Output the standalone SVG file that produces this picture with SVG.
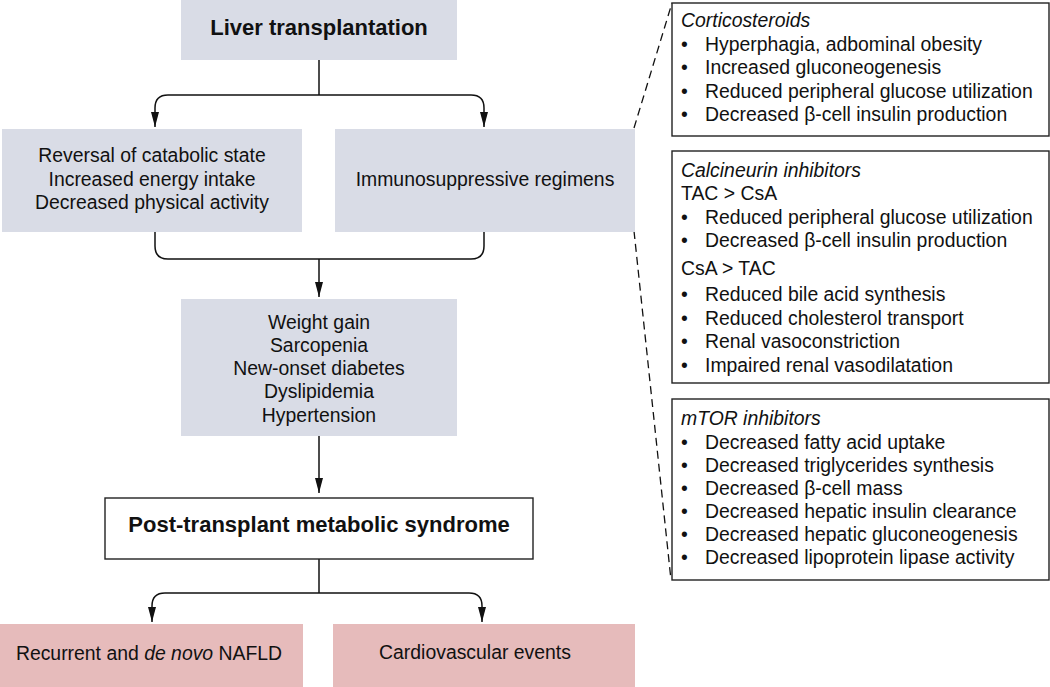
<svg xmlns="http://www.w3.org/2000/svg" width="1050" height="687" viewBox="0 0 1050 687">
<style>
text{font-family:"Liberation Sans",Arial,sans-serif;font-size:19.4px;fill:#111}
.c{text-anchor:middle}
.b{font-weight:bold;font-size:22px}
.i{font-style:italic}
.grey{fill:#d9dce6}
.pink{fill:#e6bbbb}
.box{fill:#fff;stroke:#222;stroke-width:1.4}
.ln{fill:none;stroke:#111;stroke-width:1.5}
.dash{fill:none;stroke:#111;stroke-width:1.3;stroke-dasharray:8 5}
</style>
<defs>
<marker id="ah" markerUnits="userSpaceOnUse" markerWidth="16" markerHeight="10" refX="15" refY="4" orient="auto">
<path d="M0,0 L15,4 L0,8 z" fill="#111"/>
</marker>
</defs>
<g id="connectors">
<path class="ln" d="M319,60 V95"/>
<path class="ln" d="M319,95 H168 Q155,95 155,108 V127" marker-end="url(#ah)"/>
<path class="ln" d="M319,95 H471 Q484,95 484,108 V127" marker-end="url(#ah)"/>
<path class="ln" d="M155,232 V246 Q155,259 168,259 H471 Q484,259 484,246 V232"/>
<path class="ln" d="M319,259 V297" marker-end="url(#ah)"/>
<path class="ln" d="M319,436 V493" marker-end="url(#ah)"/>
<path class="ln" d="M319,559 V593"/>
<path class="ln" d="M319,593 H165 Q152,593 152,606 V622" marker-end="url(#ah)"/>
<path class="ln" d="M319,593 H469 Q482,593 482,606 V622" marker-end="url(#ah)"/>
<path class="dash" d="M634,128 L672,3"/>
<path class="dash" d="M634,231 L671,580"/>
</g>
<g id="liver">
<rect class="grey" x="181" y="0" width="276" height="60"/>
<text class="c b" x="319" y="35">Liver transplantation</text>
</g>
<g id="reversal">
<rect class="grey" x="2" y="129" width="300" height="103"/>
<text class="c" x="152" y="162">Reversal of catabolic state</text>
<text class="c" x="152" y="186">Increased energy intake</text>
<text class="c" x="152" y="209">Decreased physical activity</text>
</g>
<g id="immuno">
<rect class="grey" x="335" y="129" width="300" height="103"/>
<text class="c" x="485" y="186">Immunosuppressive regimens</text>
</g>
<g id="effects">
<rect class="grey" x="181" y="299" width="276" height="137"/>
<text class="c" x="319" y="329">Weight gain</text>
<text class="c" x="319" y="352">Sarcopenia</text>
<text class="c" x="319" y="375">New-onset diabetes</text>
<text class="c" x="319" y="398">Dyslipidemia</text>
<text class="c" x="319" y="422">Hypertension</text>
</g>
<g id="syndrome">
<rect class="box" x="105" y="498" width="428" height="61"/>
<text class="c b" x="319" y="532">Post-transplant metabolic syndrome</text>
</g>
<g id="nafld">
<rect class="pink" x="0" y="624" width="303" height="63"/>
<text class="c" x="149" y="660">Recurrent and <tspan class="i">de novo</tspan> NAFLD</text>
</g>
<g id="cardio">
<rect class="pink" x="333" y="624" width="302" height="63"/>
<text class="c" x="475" y="659">Cardiovascular events</text>
</g>
<g id="corticosteroids">
<rect class="box" x="672" y="3" width="377" height="133"/>
<text class="i" x="681" y="27">Corticosteroids</text>
<text x="681" y="50.5">•</text><text x="705" y="50.5">Hyperphagia, adbominal obesity</text>
<text x="681" y="74">•</text><text x="705" y="74">Increased gluconeogenesis</text>
<text x="681" y="97.5">•</text><text x="705" y="97.5">Reduced peripheral glucose utilization</text>
<text x="681" y="121">•</text><text x="705" y="121">Decreased β-cell insulin production</text>
</g>
<g id="calcineurin">
<rect class="box" x="672" y="151" width="377" height="232"/>
<text class="i" x="681" y="177">Calcineurin inhibitors</text>
<text x="681" y="200">TAC &gt; CsA</text>
<text x="681" y="223.5">•</text><text x="705" y="223.5">Reduced peripheral glucose utilization</text>
<text x="681" y="247">•</text><text x="705" y="247">Decreased β-cell insulin production</text>
<text x="681" y="275">CsA &gt; TAC</text>
<text x="681" y="301">•</text><text x="705" y="301">Reduced bile acid synthesis</text>
<text x="681" y="324.5">•</text><text x="705" y="324.5">Reduced cholesterol transport</text>
<text x="681" y="348">•</text><text x="705" y="348">Renal vasoconstriction</text>
<text x="681" y="371.5">•</text><text x="705" y="371.5">Impaired renal vasodilatation</text>
</g>
<g id="mtor">
<rect class="box" x="672" y="399" width="377" height="181"/>
<text class="i" x="681" y="425">mTOR inhibitors</text>
<text x="681" y="448.5">•</text><text x="705" y="448.5">Decreased fatty acid uptake</text>
<text x="681" y="471.5">•</text><text x="705" y="471.5">Decreased triglycerides synthesis</text>
<text x="681" y="494.5">•</text><text x="705" y="494.5">Decreased β-cell mass</text>
<text x="681" y="517.5">•</text><text x="705" y="517.5">Decreased hepatic insulin clearance</text>
<text x="681" y="541">•</text><text x="705" y="541">Decreased hepatic gluconeogenesis</text>
<text x="681" y="564">•</text><text x="705" y="564">Decreased lipoprotein lipase activity</text>
</g>
</svg>
